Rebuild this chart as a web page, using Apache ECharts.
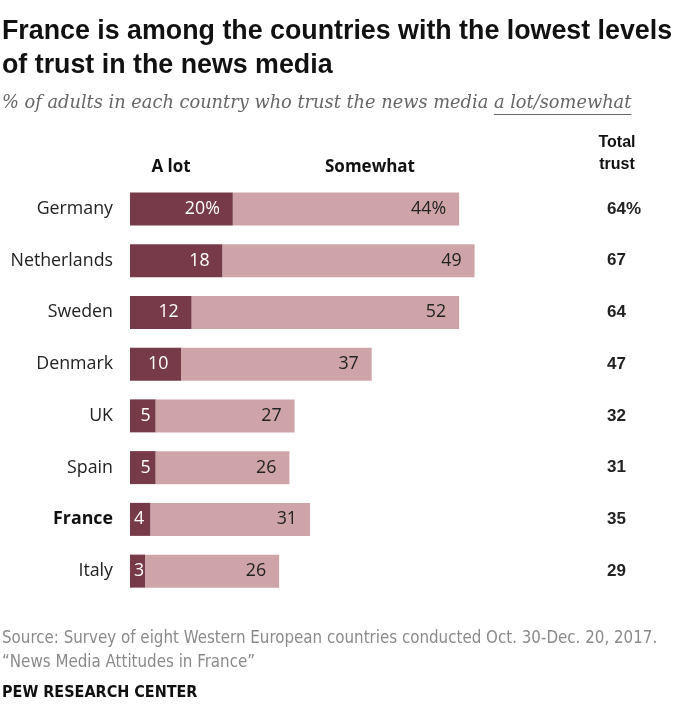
<!DOCTYPE html>
<html>
<head>
<meta charset="utf-8">
<script src="https://cdn.jsdelivr.net/npm/echarts@6/dist/echarts.min.js"></script>
<style>
  html, body { margin: 0; padding: 0; background: #fff; }
  #chart { width: 696px; height: 724px; }
</style>
</head>
<body>
<div id="chart"></div>
<script>
// ---------- data ----------
const countries = ['Germany', 'Netherlands', 'Sweden', 'Denmark', 'UK', 'Spain', 'France', 'Italy'];
const aLot = [20, 18, 12, 10, 5, 5, 4, 3];
const somewhat = [44, 49, 52, 37, 27, 26, 31, 26];
const totalTrust = [64, 67, 64, 47, 32, 31, 35, 29];

// ---------- styles ----------
const DARK = '#763a48';
const LIGHT = '#cfa4a9';
const SANS = '"Liberation Sans", Arial, sans-serif';
const LABEL = '"Open Sans", "Liberation Sans", sans-serif';
const NARROW = '"Liberation Sans Narrow", "DejaVu Sans Condensed", sans-serif';
const SERIF = '"DejaVu Serif", "Liberation Serif", serif';

const subtitleMain = '% of adults in each country who trust the news media ';
const subtitleUl = 'a lot/somewhat';
const subFont = 'italic 17.8px ' + SERIF;

// width of a string, used only to put the underline under "a lot/somewhat"
function textWidth(str, font) {
    const ctx = document.createElement('canvas').getContext('2d');
    ctx.font = font;
    return ctx.measureText(str).width;
}
const ulStart = 2 + textWidth(subtitleMain, subFont);
const ulWidth = textWidth(subtitleUl, subFont);

// label placement for the narrow "A lot" bars
function aLotLabel(v) {
    if (v < 5) return { position: 'insideLeft', distance: 4 };
    if (v < 8) return { position: 'insideRight', distance: 5 };
    return {};
}

let option = {
    animation: false,
    backgroundColor: '#fff',
    grid: { left: 130, top: 183, width: 468, height: 414 },
    xAxis: {
        type: 'value', min: 0, max: 91,
        show: false
    },
    yAxis: [
        {
            type: 'category', data: countries, inverse: true,
            axisLine: { show: false }, axisTick: { show: false },
            axisLabel: {
                margin: 17, fontSize: 17.8, color: '#222', fontFamily: LABEL,
                formatter: v => v === 'France' ? '{b|' + v + '}' : v,
                rich: { b: { fontWeight: 'bold', fontSize: 17.8, color: '#111', fontFamily: LABEL } }
            }
        },
        {
            type: 'category', data: totalTrust.map((v, i) => i === 0 ? v + '%' : String(v)),
            inverse: true, position: 'right',
            axisLine: { show: false }, axisTick: { show: false },
            axisLabel: {
                margin: 9, fontSize: 17, fontWeight: 'bold', color: '#222', fontFamily: SANS, align: 'left'
            }
        }
    ],
    graphic: [
        { type: 'text', left: 2, top: 18, style: { text: 'France is among the countries with the lowest levels', font: 'bold 26.8px ' + SANS, fill: '#111' } },
        { type: 'text', left: 2, top: 52, style: { text: 'of trust in the news media', font: 'bold 26.8px ' + SANS, fill: '#111' } },
        { type: 'text', left: 2, top: 94, style: { text: subtitleMain + subtitleUl, font: subFont, fill: '#666' } },
        { type: 'line', shape: { x1: ulStart, y1: 114.5, x2: ulStart + ulWidth, y2: 114.5 }, style: { stroke: '#666', lineWidth: 1 } },
        { type: 'text', x: 171, y: 167, style: { text: 'A lot', font: 'bold 17px ' + LABEL, fill: '#111', align: 'center', verticalAlign: 'middle' } },
        { type: 'text', x: 370, y: 167, style: { text: 'Somewhat', font: 'bold 17px ' + LABEL, fill: '#111', align: 'center', verticalAlign: 'middle' } },
        { type: 'text', x: 617, y: 154, style: { text: 'Total\ntrust', font: 'bold 16px ' + SANS, lineHeight: 22, fill: '#111', align: 'center', verticalAlign: 'middle' } },
        { type: 'text', left: 2, top: 630, style: { text: 'Source: Survey of eight Western European countries conducted Oct. 30-Dec. 20, 2017.', font: '16.8px ' + NARROW, fill: '#8a8a8a' } },
        { type: 'text', left: 2, top: 654, style: { text: '\u201cNews Media Attitudes in France\u201d', font: '16.8px ' + NARROW, fill: '#8a8a8a' } },
        { type: 'text', left: 2, top: 685, style: { text: 'PEW RESEARCH CENTER', font: 'bold 16px ' + NARROW, fill: '#111' } }
    ],
    series: [
        {
            name: 'A lot', type: 'bar', stack: 'trust', barWidth: 33,
            itemStyle: { color: DARK },
            data: aLot.map(v => ({ value: v, label: aLotLabel(v) })),
            label: {
                show: true, position: 'insideRight', distance: 13,
                color: '#fff', fontSize: 17.8, fontFamily: LABEL,
                formatter: p => p.dataIndex === 0 ? p.value + '%' : p.value
            }
        },
        {
            name: 'Somewhat', type: 'bar', stack: 'trust', barWidth: 33,
            itemStyle: { color: LIGHT },
            data: somewhat,
            label: {
                show: true, position: 'insideRight', distance: 13,
                color: '#222', fontSize: 17.8, fontFamily: LABEL,
                formatter: p => p.dataIndex === 0 ? p.value + '%' : p.value
            }
        }
    ]
};

echarts.init(document.getElementById('chart')).setOption(option);
</script>
</body>
</html>
